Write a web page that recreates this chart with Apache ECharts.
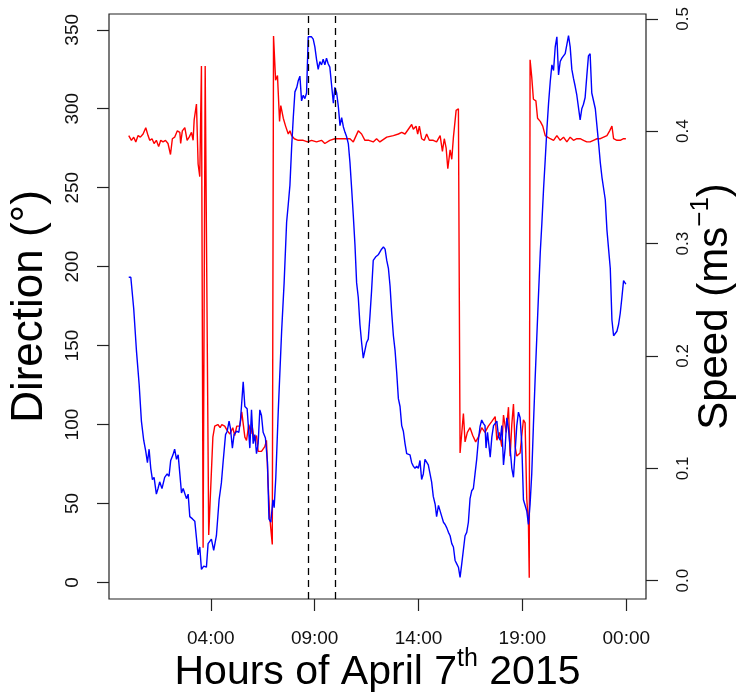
<!DOCTYPE html>
<html>
<head>
<meta charset="utf-8">
<script src="https://cdn.jsdelivr.net/npm/echarts@6/dist/echarts.min.js"></script>
<style>
  html, body { margin: 0; padding: 0; background: #fff; }
  #chart { width: 739px; height: 693px; }
</style>
</head>
<body>
<div id="chart"></div>
<script>
// Direction (red, left axis) - hours / degrees
const dirHours = [
  0.05, 0.18, 0.29, 0.39, 0.50, 0.61, 0.74, 0.87, 0.98, 1.06, 1.17, 1.27, 1.38, 1.49, 1.59, 1.70,
  1.82, 1.94, 2.06, 2.15, 2.26, 2.39, 2.51, 2.55, 2.63, 2.75, 2.86, 2.96, 3.07, 3.15, 3.20, 3.31,
  3.39, 3.47, 3.55, 3.63, 3.73, 3.90, 4.10, 4.19, 4.34, 4.45, 4.53, 4.67, 4.80, 4.92, 5.06, 5.15,
  5.25, 5.40, 5.49, 5.64, 5.72, 5.83, 5.93, 5.99, 6.09, 6.20, 6.28, 6.44, 6.60, 6.68, 6.76, 6.84,
  6.96, 7.02, 7.12, 7.21, 7.31, 7.37, 7.49, 7.60, 7.73, 7.81, 7.89, 8.02, 8.21, 8.45, 8.66, 8.85,
  9.09, 9.33, 9.49, 9.73, 9.97, 10.22, 10.46, 10.70, 10.86, 11.10, 11.26, 11.42, 11.61, 11.82, 11.98, 12.14,
  12.47, 12.79, 13.03, 13.19, 13.35, 13.51, 13.67, 13.75, 13.88, 13.96, 14.04, 14.15, 14.28, 14.39, 14.52, 14.71,
  14.87, 15.04, 15.15, 15.24, 15.33, 15.41, 15.52, 15.60, 15.68, 15.81, 15.92, 16.00, 16.16, 16.24, 16.35, 16.48,
  16.61, 16.75, 16.88, 17.04, 17.20, 17.36, 17.53, 17.69, 17.77, 17.89, 18.01, 18.09, 18.22, 18.33, 18.41, 18.49,
  18.57, 18.65, 18.73, 18.89, 18.97, 19.05, 19.13, 19.21, 19.29, 19.33, 19.37, 19.45, 19.53, 19.65, 19.73, 19.86,
  19.98, 20.10, 20.21, 20.34, 20.50, 20.66, 20.82, 20.98, 21.14, 21.30, 21.46, 21.62, 21.78, 21.94, 22.10, 22.26,
  22.42, 22.59, 22.75, 22.91, 23.07, 23.20, 23.31, 23.39, 23.55, 23.63, 23.71, 23.79, 23.87, 23.98
];
const dirValues = [
  283, 280, 282, 279, 283, 282, 284, 288, 283, 280, 281, 278, 280, 276, 280, 279,
  280, 278, 271, 281, 282, 286, 285, 278, 286, 288, 280, 282, 285, 280, 293, 303,
  265, 257, 327, 22, 327, 30, 92, 99, 100, 98, 100, 99, 96, 94, 98, 93,
  99, 99, 108, 92, 90, 100, 94, 99, 90, 93, 83, 83, 86, 90, 62, 41,
  24, 346, 318, 321, 292, 302, 294, 289, 284, 286, 283, 281, 280, 280, 279, 280,
  279, 280, 278, 280, 281, 281, 281, 281, 279, 286, 284, 280, 280, 279, 281, 279,
  282, 283, 284, 285, 284, 287, 290, 287, 289, 284, 289, 281, 280, 284, 280, 280,
  279, 283, 273, 281, 275, 262, 274, 268, 282, 299, 300, 82, 107, 89, 95, 98,
  93, 89, 92, 98, 95, 99, 102, 105, 90, 95, 86, 106, 95, 111, 80, 100,
  113, 86, 80, 82, 93, 103, 101, 53, 38, 3, 331, 320, 306, 305, 294, 292,
  289, 283, 282, 281, 280, 283, 280, 282, 279, 282, 280, 281, 281, 280, 279, 279,
  280, 281, 281, 282, 283, 286, 289, 281, 280, 279, 280, 279, 281, 281
];

// Speed (blue, right axis) - hours / m/s
const speedHours = [
  0.05, 0.15, 0.29, 0.42, 0.55, 0.66, 0.77, 0.87, 0.95, 1.03, 1.11, 1.19, 1.27, 1.38, 1.46, 1.54,
  1.65, 1.78, 1.90, 1.99, 2.07, 2.18, 2.26, 2.35, 2.43, 2.51, 2.59, 2.67, 2.75, 2.83, 2.91, 2.99,
  3.12, 3.23, 3.31, 3.39, 3.47, 3.55, 3.66, 3.79, 3.87, 3.95, 4.03, 4.14, 4.27, 4.40, 4.51, 4.59,
  4.71, 4.79, 4.88, 4.95, 5.04, 5.12, 5.24, 5.35, 5.43, 5.56, 5.64, 5.75, 5.88, 5.96, 6.04, 6.12,
  6.20, 6.28, 6.36, 6.44, 6.52, 6.63, 6.73, 6.80, 6.89, 6.99, 7.05, 7.13, 7.25, 7.41, 7.53, 7.65,
  7.73, 7.81, 7.89, 7.97, 8.05, 8.14, 8.21, 8.29, 8.37, 8.45, 8.53, 8.61, 8.69, 8.77, 8.85, 8.93,
  9.01, 9.09, 9.17, 9.25, 9.33, 9.41, 9.49, 9.57, 9.65, 9.73, 9.81, 9.90, 9.97, 10.06, 10.14, 10.22,
  10.30, 10.38, 10.46, 10.54, 10.62, 10.70, 10.78, 10.86, 10.94, 11.02, 11.10, 11.18, 11.26, 11.34, 11.42, 11.50,
  11.58, 11.66, 11.74, 11.82, 11.93, 12.06, 12.22, 12.31, 12.39, 12.47, 12.55, 12.63, 12.71, 12.79, 12.87, 12.95,
  13.03, 13.11, 13.19, 13.27, 13.35, 13.43, 13.51, 13.59, 13.67, 13.75, 13.83, 13.91, 13.99, 14.07, 14.15, 14.23,
  14.31, 14.39, 14.47, 14.55, 14.63, 14.71, 14.80, 14.87, 14.96, 15.04, 15.12, 15.20, 15.28, 15.36, 15.44, 15.52,
  15.60, 15.68, 15.76, 15.84, 15.92, 16.00, 16.08, 16.16, 16.24, 16.32, 16.40, 16.48, 16.56, 16.64, 16.72, 16.80,
  16.88, 16.96, 17.04, 17.12, 17.20, 17.25, 17.32, 17.45, 17.53, 17.61, 17.69, 17.77, 17.85, 17.93, 18.01, 18.09,
  18.17, 18.25, 18.33, 18.41, 18.49, 18.57, 18.65, 18.73, 18.81, 18.89, 18.97, 19.05, 19.13, 19.21, 19.29, 19.37,
  19.45, 19.53, 19.61, 19.69, 19.77, 19.86, 19.94, 20.02, 20.10, 20.18, 20.26, 20.34, 20.42, 20.50, 20.58, 20.66,
  20.74, 20.82, 20.90, 20.98, 21.06, 21.14, 21.22, 21.30, 21.38, 21.46, 21.54, 21.62, 21.70, 21.78, 21.86, 21.94,
  22.02, 22.10, 22.18, 22.26, 22.34, 22.42, 22.51, 22.59, 22.67, 22.75, 22.83, 22.91, 22.99, 23.07, 23.15, 23.23,
  23.31, 23.39, 23.47, 23.55, 23.63, 23.71, 23.79, 23.87, 23.98
];
const speedValues = [
  0.270, 0.270, 0.242, 0.205, 0.175, 0.142, 0.125, 0.115, 0.105, 0.117, 0.100, 0.090, 0.092, 0.077, 0.082, 0.088,
  0.082, 0.092, 0.095, 0.093, 0.107, 0.112, 0.117, 0.108, 0.112, 0.095, 0.078, 0.082, 0.083, 0.073, 0.077, 0.057,
  0.055, 0.053, 0.038, 0.023, 0.030, 0.010, 0.013, 0.012, 0.033, 0.032, 0.037, 0.027, 0.040, 0.072, 0.087, 0.105,
  0.130, 0.133, 0.142, 0.135, 0.118, 0.130, 0.133, 0.132, 0.143, 0.177, 0.155, 0.153, 0.118, 0.152, 0.122, 0.130,
  0.113, 0.122, 0.152, 0.147, 0.132, 0.127, 0.105, 0.055, 0.052, 0.072, 0.065, 0.092, 0.152, 0.222, 0.265, 0.319,
  0.335, 0.352, 0.385, 0.412, 0.435, 0.439, 0.445, 0.449, 0.427, 0.432, 0.429, 0.434, 0.484, 0.485, 0.484, 0.482,
  0.475, 0.464, 0.455, 0.462, 0.459, 0.464, 0.459, 0.465, 0.460, 0.457, 0.442, 0.425, 0.439, 0.434, 0.422, 0.405,
  0.412, 0.404, 0.399, 0.395, 0.389, 0.372, 0.349, 0.325, 0.299, 0.265, 0.252, 0.228, 0.212, 0.198, 0.205, 0.212,
  0.215, 0.235, 0.258, 0.285, 0.288, 0.290, 0.295, 0.297, 0.295, 0.285, 0.278, 0.262, 0.238, 0.218, 0.205, 0.185,
  0.162, 0.155, 0.138, 0.133, 0.122, 0.113, 0.113, 0.112, 0.105, 0.102, 0.100, 0.102, 0.100, 0.107, 0.090, 0.095,
  0.108, 0.107, 0.103, 0.102, 0.088, 0.075, 0.068, 0.057, 0.067, 0.068, 0.057, 0.052, 0.050, 0.047, 0.043, 0.040,
  0.033, 0.030, 0.018, 0.015, 0.012, 0.003, 0.015, 0.015, 0.040, 0.043, 0.052, 0.073, 0.080, 0.082, 0.095, 0.108,
  0.125, 0.137, 0.143, 0.140, 0.138, 0.118, 0.132, 0.110, 0.128, 0.138, 0.140, 0.142, 0.128, 0.125, 0.138, 0.103,
  0.118, 0.145, 0.135, 0.118, 0.100, 0.092, 0.115, 0.138, 0.150, 0.145, 0.122, 0.072, 0.072, 0.062, 0.050, 0.068,
  0.095, 0.138, 0.178, 0.215, 0.252, 0.292, 0.319, 0.349, 0.375, 0.402, 0.425, 0.444, 0.459, 0.454, 0.475, 0.484,
  0.450, 0.462, 0.465, 0.465, 0.469, 0.477, 0.485, 0.475, 0.455, 0.447, 0.440, 0.432, 0.432, 0.410, 0.420, 0.424,
  0.430, 0.449, 0.467, 0.469, 0.434, 0.435, 0.420, 0.419, 0.389, 0.372, 0.359, 0.349, 0.339, 0.312, 0.313, 0.278,
  0.232, 0.218, 0.218, 0.222, 0.228, 0.238, 0.252, 0.267, 0.264
];

// Axes ticks and marked period
const xTicks = [4, 9, 14, 19, 24];
const xTickLabels = ['04:00', '09:00', '14:00', '19:00', '00:00'];
const dirTicks = [0, 50, 100, 150, 200, 250, 300, 350];
const speedTicks = [0, 0.1, 0.2, 0.3, 0.4, 0.5];
const dashedHours = [8.67, 10.0];

const FONT = '"Liberation Sans", Arial, sans-serif';

const chart = echarts.init(document.getElementById('chart'), null, { renderer: 'canvas' });

const tickStyle = { color: '#222', width: 1.2 };

const option = {
  animation: false,
  backgroundColor: '#fff',
  grid: {
    left: 109, right: 93, top: 14, bottom: 94,
    containLabel: false,
    outerBoundsMode: 'none',
    show: true, borderColor: '#222', borderWidth: 1.2, backgroundColor: 'transparent'
  },
  xAxis: {
    type: 'value', min: -0.9, max: 24.95,
    splitLine: { show: false },
    axisLine: { show: false, onZero: false },
    axisTick: { show: true, inside: false, length: 12, customValues: xTicks, lineStyle: tickStyle },
    axisLabel: {
      customValues: xTicks, margin: 30, fontSize: 19, fontFamily: FONT, color: '#111',
      formatter: v => xTickLabels[xTicks.indexOf(v)]
    },
    name: '{a|Hours of April 7}{s|th}{a| 2015}',
    nameLocation: 'middle', nameGap: 48, nameMoveOverlap: false,
    nameTextStyle: {
      rich: {
        a: { fontSize: 41, fontFamily: FONT, color: '#000', lineHeight: 46, verticalAlign: 'bottom' },
        s: { fontSize: 25, fontFamily: FONT, color: '#000', lineHeight: 46, verticalAlign: 'top' }
      }
    }
  },
  yAxis: [
    {
      type: 'value', min: -10.5, max: 360, position: 'left',
      splitLine: { show: false },
      axisLine: { show: false, onZero: false },
      axisTick: { show: true, inside: false, length: 12, customValues: dirTicks, lineStyle: tickStyle },
      axisLabel: { customValues: dirTicks, rotate: 90, margin: 27, fontSize: 19, fontFamily: FONT, color: '#111' },
      name: 'Direction (°)',
      nameLocation: 'middle', nameRotate: 90, nameGap: 57, nameMoveOverlap: false,
      nameTextStyle: { fontSize: 44, fontFamily: FONT, color: '#000' }
    },
    {
      type: 'value', min: -0.0163, max: 0.5043, position: 'right',
      splitLine: { show: false },
      axisLine: { show: false, onZero: false },
      axisTick: { show: true, inside: false, length: 12, customValues: speedTicks, lineStyle: tickStyle },
      axisLabel: {
        customValues: speedTicks, rotate: 90, margin: 29, fontSize: 17, fontFamily: FONT, color: '#111',
        formatter: v => v.toFixed(1)
      },
      name: '{a|Speed (ms}{s|−1}{a|)}',
      nameLocation: 'middle', nameRotate: 90, nameGap: 42, nameMoveOverlap: false,
      nameTextStyle: {
        rich: {
          a: { fontSize: 42, fontFamily: FONT, color: '#000', lineHeight: 48, verticalAlign: 'bottom' },
          s: { fontSize: 26, fontFamily: FONT, color: '#000', lineHeight: 48, verticalAlign: 'top' }
        }
      }
    }
  ],
  series: [
    {
      name: 'Direction',
      type: 'line',
      yAxisIndex: 0,
      showSymbol: false,
      data: dirHours.map((h, i) => [h, dirValues[i]]),
      lineStyle: { color: '#ff0000', width: 1.4 },
      markLine: {
        silent: true,
        symbol: 'none',
        label: { show: false },
        lineStyle: { color: '#000', type: [7, 5], width: 1.3 },
        data: dashedHours.map(h => ({ xAxis: h }))
      }
    },
    {
      name: 'Speed',
      type: 'line',
      yAxisIndex: 1,
      showSymbol: false,
      data: speedHours.map((h, i) => [h, speedValues[i]]),
      lineStyle: { color: '#0000ff', width: 1.4 }
    }
  ]
};

chart.setOption(option);
</script>
</body>
</html>
